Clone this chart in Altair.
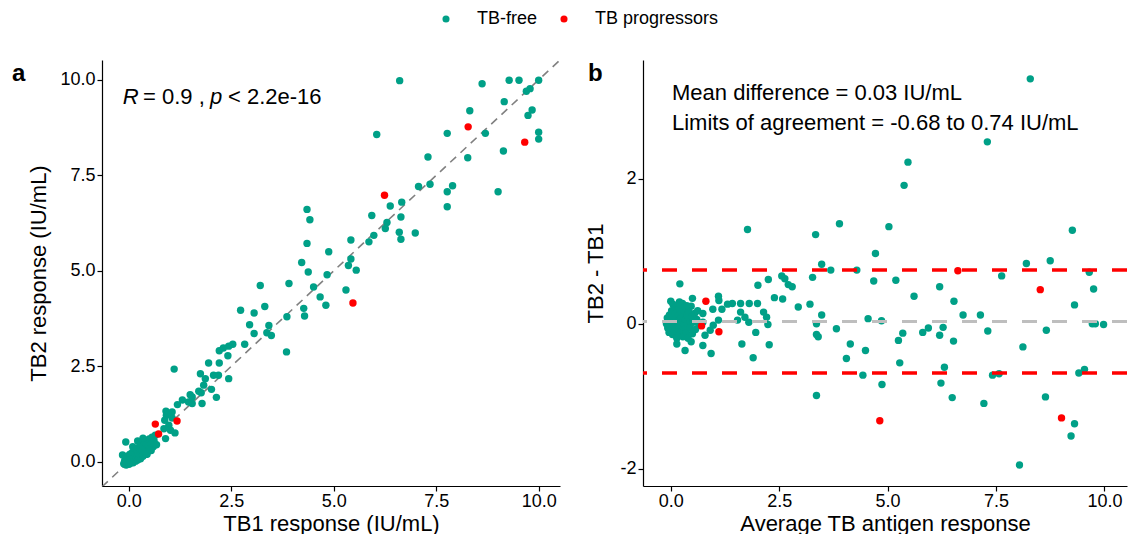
import altair as alt
import pandas as pd

FONT = "Liberation Sans"
TEAL = "#00A087"
RED = "#FF0000"
GROUPS = ["TB-free", "TB progressors"]

# ---------------- Panel a: TB1 vs TB2 (IU/mL) ----------------
free_a = [
    (6.61, 9.98), (8.62, 9.90), (9.28, 9.99), (9.52, 9.99), (10.0, 9.99), (9.79, 9.77),
    (9.70, 9.70), (9.16, 9.43), (9.84, 9.21), (9.74, 9.07), (8.32, 9.19), (7.77, 8.60),
    (8.70, 8.60), (6.05, 8.57), (10.0, 8.63), (10.0, 8.45), (9.14, 8.14), (7.30, 7.98),
    (8.27, 7.96), (9.01, 7.07), (7.07, 7.21), (7.35, 7.27), (7.90, 7.23), (7.77, 7.07),
    (7.77, 6.68), (6.38, 6.70), (6.66, 6.80), (5.93, 6.45), (6.64, 6.41), (6.30, 6.27),
    (6.26, 6.11), (5.98, 5.93), (5.86, 5.76), (6.60, 6.01), (6.64, 5.83), (6.99, 5.99),
    (5.42, 5.81), (4.88, 5.50), (5.42, 5.31), (5.36, 5.14), (5.55, 5.02), (5.30, 4.50),
    (4.35, 6.61), (4.42, 6.34), (4.35, 5.72), (4.22, 5.22), (4.38, 4.97), (4.84, 4.90),
    (3.91, 4.67), (3.21, 4.62), (4.51, 4.58), (4.67, 4.32), (4.81, 4.10), (4.27, 4.02),
    (4.29, 3.82), (3.86, 3.80), (3.32, 4.07), (2.73, 3.97), (3.06, 3.90), (2.95, 3.59),
    (3.42, 3.57), (3.06, 3.36), (3.37, 3.38), (3.48, 3.31), (3.85, 2.88), (2.83, 3.08),
    (2.54, 3.08), (2.44, 3.03), (2.31, 2.98), (2.21, 2.91), (2.42, 2.78), (1.95, 2.59),
    (2.21, 2.59), (1.75, 2.31), (2.07, 2.27), (2.19, 2.27), (2.44, 2.18), (1.87, 2.18),
    (2.14, 1.69), (1.79, 1.53), (1.50, 1.76), (1.46, 1.57), (1.71, 1.85), (1.83, 2.01),
    (2.02, 1.90), (1.77, 1.81), (1.55, 1.70), (1.31, 1.62), (1.55, 1.53), (1.11, 2.43),
    (1.19, 1.50), (0.91, 1.33), (1.06, 1.31), (0.92, 1.22), (1.06, 1.15), (0.88, 1.09),
    (0.98, 0.96), (0.86, 0.87), (1.02, 0.83), (1.13, 0.76), (0.90, 0.61),
    (-0.12, -0.05), (-0.10, 0.02), (-0.08, 0.10), (-0.06, -0.08), (-0.05, 0.05), (-0.04, 0.15),
    (-0.03, -0.02), (-0.02, 0.08), (0.00, 0.00), (0.00, 0.12), (0.01, -0.06), (0.02, 0.05),
    (0.03, 0.20), (0.04, 0.02), (0.05, -0.03), (0.06, 0.10), (0.07, 0.18), (0.08, 0.04),
    (0.09, 0.25), (0.10, 0.08), (0.11, -0.02), (0.12, 0.14), (0.13, 0.22), (0.14, 0.06),
    (0.15, 0.30), (0.16, 0.12), (0.17, 0.02), (0.18, 0.20), (0.19, 0.10), (0.20, 0.28),
    (0.21, 0.16), (0.22, 0.05), (0.23, 0.34), (0.24, 0.22), (0.25, 0.12), (0.26, 0.40),
    (0.27, 0.28), (0.28, 0.18), (0.29, 0.08), (0.30, 0.35), (0.31, 0.45), (0.32, 0.24),
    (0.33, 0.30), (0.35, 0.15), (0.36, 0.40), (0.38, 0.50), (0.39, 0.28), (0.40, 0.36),
    (0.42, 0.20), (0.43, 0.46), (0.45, 0.55), (0.47, 0.30), (0.48, 0.42), (0.50, 0.60),
    (0.52, 0.35), (0.55, 0.48), (0.57, 0.65), (0.60, 0.40), (0.62, 0.55), (0.65, 0.70),
    (-0.07, 0.52), (0.68, 0.45), (0.35, 0.62), (0.10, 0.40), (0.45, 0.20), (-0.15, 0.18),
    (0.22, 0.55), (0.55, 0.30),
]
prog_a = [(0.65, 0.99), (0.73, 0.73), (1.18, 1.07), (5.47, 4.16), (6.24, 6.98), (8.28, 8.77), (9.66, 8.37)]
diag_ends = [-0.65, 10.52]

# ---------------- Panel b: Bland-Altman ----------------
free_b = [
    (1.77, 1.30), (0.21, 0.55), (3.34, 1.23), (3.48, 0.82), (3.69, 0.74), (3.89, 1.38),
    (3.27, 0.64), (2.01, 0.53), (2.25, 0.61), (2.56, 0.66), (2.63, 0.62), (2.71, 0.54),
    (2.80, 0.51), (2.39, 0.36), (2.58, 0.34), (2.94, 0.23), (3.21, 0.27), (3.48, 0.12),
    (3.36, 0.00), (3.36, -0.15), (3.40, -0.18), (3.82, -0.07), (3.36, -0.99), (1.96, -0.12),
    (1.90, -0.47), (2.27, -0.29), (1.64, -0.28), (0.93, -0.41), (0.74, -0.30), (0.33, -0.37),
    (0.14, -0.28), (0.47, -0.25), (0.00, 0.31), (0.50, 0.35), (1.10, 0.38), (1.11, 0.32),
    (0.97, 0.20), (1.18, 0.20), (1.31, 0.27), (1.42, 0.28), (1.61, 0.28), (1.81, 0.28),
    (2.00, 0.28), (2.14, 0.16), (2.21, 0.09), (2.24, -0.01), (1.61, 0.16), (1.71, 0.09),
    (1.80, 0.02), (1.54, 0.05), (0.74, 0.14), (0.74, 0.02), (0.79, -0.16), (1.10, 0.05),
    (0.98, -0.02), (0.91, -0.09),
    (8.29, 3.38), (7.30, 2.51), (5.47, 2.23), (5.38, 1.91), (5.03, 1.34), (9.26, 1.29),
    (4.72, 0.97), (4.29, 0.74), (8.20, 0.83), (8.75, 0.87), (9.65, 0.71), (7.63, 0.66),
    (4.68, 0.59), (5.19, 0.60), (9.75, 0.48), (5.61, 0.38), (6.20, 0.51), (6.53, 0.31),
    (9.31, 0.26), (6.74, 0.12), (7.14, 0.12), (4.55, 0.07), (4.86, 0.04), (9.72, 0.00),
    (9.79, 0.00), (9.98, -0.01), (4.14, -0.28), (4.05, -0.48), (4.49, -0.37), (4.43, -0.71),
    (4.87, -0.84), (5.25, -0.23), (5.35, -0.13), (5.28, -0.54), (5.81, -0.12), (5.94, -0.06),
    (6.20, -0.16), (6.28, -0.05), (6.52, -0.24), (6.31, -0.60), (6.23, -0.82), (6.49, -1.02),
    (7.31, -0.10), (7.22, -1.10), (7.42, -0.71), (7.57, -0.69), (8.12, -0.32), (8.04, -1.95),
    (8.66, -0.09), (8.64, -1.01), (9.31, -1.38), (9.23, -1.55), (9.41, -0.68), (9.54, -0.63),
    (-0.10, 0.00), (-0.08, 0.08), (-0.07, -0.06), (-0.05, 0.03), (-0.04, -0.12), (-0.03, 0.12),
    (-0.02, -0.03), (0.00, 0.05), (0.00, -0.08), (0.02, 0.18), (0.03, 0.00), (0.04, -0.15),
    (0.05, 0.10), (0.06, -0.05), (0.08, 0.22), (0.09, 0.02), (0.10, -0.10), (0.11, 0.14),
    (0.12, -0.02), (0.13, 0.07), (0.14, -0.20), (0.15, 0.25), (0.16, 0.00), (0.17, -0.08),
    (0.18, 0.12), (0.19, 0.04), (0.20, -0.14), (0.21, 0.20), (0.22, -0.04), (0.23, 0.08),
    (0.24, 0.16), (0.25, -0.10), (0.26, 0.02), (0.27, 0.28), (0.28, -0.18), (0.29, 0.10),
    (0.30, -0.02), (0.31, 0.18), (0.32, -0.08), (0.33, 0.06), (0.35, 0.22), (0.36, -0.12),
    (0.38, 0.12), (0.39, 0.00), (0.40, -0.20), (0.42, 0.16), (0.44, 0.04), (0.45, -0.06),
    (0.47, 0.24), (0.49, 0.10), (0.50, -0.14), (0.52, 0.02), (0.55, 0.14), (0.57, -0.08),
    (0.60, 0.06), (0.62, 0.18), (0.65, -0.02), (0.37, 0.25), (0.20, 0.30), (0.05, 0.27),
]
prog_b = [(0.81, 0.31), (0.71, -0.03), (1.11, -0.11), (4.82, -1.34), (6.62, 0.73), (8.52, 0.47), (9.01, -1.30)]
mean_diff = [0.03]
limits = [-0.68, 0.74]

r_text = ["R", "= 0.9 ,", "p", "< 2.2e-16"]
ba_text = ["Mean difference = 0.03 IU/mL", "Limits of agreement = -0.68 to 0.74 IU/mL"]


def frame(pairs_free, pairs_prog, cx, cy):
    rows = [{cx: a, cy: b, "group": GROUPS[0]} for a, b in pairs_free]
    rows += [{cx: a, cy: b, "group": GROUPS[1]} for a, b in pairs_prog]
    return pd.DataFrame(rows)


df_a = frame(free_a, prog_a, "tb1", "tb2")
df_b = frame(free_b, prog_b, "avg", "diff")

color = alt.Color(
    "group:N",
    scale=alt.Scale(domain=GROUPS, range=[TEAL, RED]),
    legend=alt.Legend(
        title=None, orient="none", legendX=335, legendY=-50, direction="horizontal",
        symbolType="circle", symbolSize=50, labelFontSize=18, labelFont=FONT,
        labelColor="black", labelOffset=22, columnPadding=17,
    ),
)

W_A, W_B, H = 458, 484, 426
PT = 55

xa = alt.X("tb1:Q", scale=alt.Scale(domain=[-0.65, 10.52], nice=False, zero=False),
           axis=alt.Axis(values=[0, 2.5, 5, 7.5, 10], format=".1f", title="TB1 response (IU/mL)",
                         labelPadding=1, titlePadding=3))
ya = alt.Y("tb2:Q", scale=alt.Scale(domain=[-0.63, 10.52], nice=False, zero=False),
           axis=alt.Axis(values=[0, 2.5, 5, 7.5, 10], format=".1f", title="TB2 response (IU/mL)",
                         titlePadding=9))

diag = alt.Chart(pd.DataFrame({"v": diag_ends})).mark_line(
    color="#808080", strokeDash=[8, 6], strokeWidth=1.6, clip=True
).encode(x="v:Q", y="v:Q")

pts_a = alt.Chart(df_a).mark_circle(size=PT, opacity=1).encode(x=xa, y=ya, color=color)

r_parts = []
for t, px, st in zip(r_text, [20.7, 41, 108, 126], ["italic", "normal", "italic", "normal"]):
    r_parts.append(
        alt.Chart(pd.DataFrame({"t": [t]})).mark_text(
            align="left", baseline="middle", fontSize=22, font=FONT, color="black", fontStyle=st
        ).encode(text="t:N", x=alt.value(px), y=alt.value(37))
    )

lab_a = alt.Chart(pd.DataFrame({"t": ["a"]})).mark_text(
    align="left", baseline="middle", fontSize=24, fontWeight="bold", font=FONT, color="black"
).encode(text="t:N", x=alt.value(-90), y=alt.value(14))

left = alt.layer(diag, pts_a, *r_parts, lab_a).properties(width=W_A, height=H)

xb = alt.X("avg:Q", scale=alt.Scale(domain=[-0.64, 10.52], nice=False, zero=False),
           axis=alt.Axis(values=[0, 2.5, 5, 7.5, 10], format=".1f", title="Average TB antigen response",
                         labelPadding=1, titlePadding=3))
yb = alt.Y("diff:Q", scale=alt.Scale(domain=[-2.24, 3.64], nice=False, zero=False),
           axis=alt.Axis(values=[-2, 0, 2], labelExpr="'' + datum.value", title="TB2 - TB1",
                         titlePadding=12))

pts_b = alt.Chart(df_b).mark_circle(size=PT, opacity=1).encode(x=xb, y=yb, color=color)
mean_rule = alt.Chart(pd.DataFrame({"v": mean_diff})).mark_rule(
    color="#BEBEBE", strokeDash=[15, 15], strokeWidth=3
).encode(y="v:Q")
loa_rule = alt.Chart(pd.DataFrame({"v": limits})).mark_rule(
    color=RED, strokeDash=[15, 15], strokeWidth=3.5
).encode(y="v:Q")

ba_parts = []
for t, py in zip(ba_text, [33.3, 63.3]):
    ba_parts.append(
        alt.Chart(pd.DataFrame({"t": [t]})).mark_text(
            align="left", baseline="middle", fontSize=22, font=FONT, color="black"
        ).encode(text="t:N", x=alt.value(29), y=alt.value(py))
    )

lab_b = alt.Chart(pd.DataFrame({"t": ["b"]})).mark_text(
    align="left", baseline="middle", fontSize=24, fontWeight="bold", font=FONT, color="black"
).encode(text="t:N", x=alt.value(-55), y=alt.value(14))

right = alt.layer(pts_b, mean_rule, loa_rule, *ba_parts, lab_b).properties(width=W_B, height=H)

chart = (
    alt.hconcat(left, right, spacing=24)
    .properties(padding={"left": 4, "top": 2, "right": 0, "bottom": 0})
    .configure_view(strokeWidth=0)
    .configure_axis(
        grid=False, domainColor="black", domainWidth=1.2, tickColor="black", tickWidth=1.2,
        tickSize=5, labelFont=FONT, titleFont=FONT, labelFontSize=18, titleFontSize=22,
        titleFontWeight="normal", labelColor="black", titleColor="black", labelPadding=2,
        titlePadding=2,
    )
)

chart.save("out.html", embed_options={"renderer": "svg", "actions": False})
